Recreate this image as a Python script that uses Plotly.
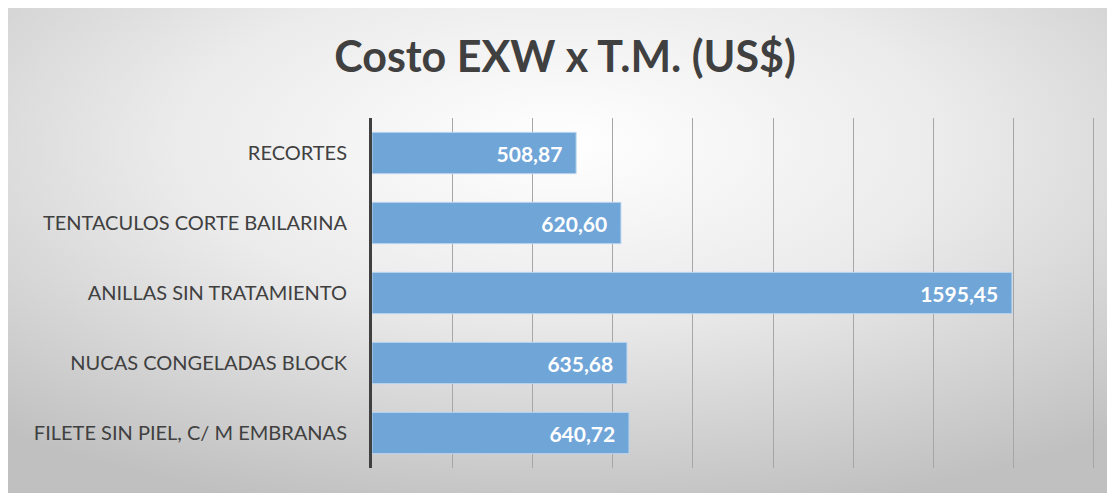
import base64
import plotly.graph_objects as go

categories = [
    "RECORTES",
    "TENTACULOS CORTE BAILARINA",
    "ANILLAS SIN TRATAMIENTO",
    "NUCAS CONGELADAS BLOCK",
    "FILETE SIN PIEL, C/ M EMBRANAS",
]
values = [508.87, 620.60, 1595.45, 635.68, 640.72]
title_text = "Costo EXW x T.M. (US$)"
x_ticks = [0, 200, 400, 600, 800, 1000, 1200, 1400, 1600, 1800]

OFF = 8  # page body margin
W, H = 1115 - OFF, 493 - OFF
ml, mr, mt, mb = 372 - OFF, 17, 118 - OFF, 25
pw, ph = W - ml - mr, H - mt - mb

svg = (
    '<svg xmlns="http://www.w3.org/2000/svg" width="1111" height="487" '
    'viewBox="0 0 100 100" preserveAspectRatio="none">'
    '<defs><radialGradient id="g" cx="0.5" cy="0.28" r="0.78" fx="0.5" fy="0.28">'
    '<stop offset="0" stop-color="#ffffff"/>'
    '<stop offset="0.45" stop-color="#ebebeb"/>'
    '<stop offset="1" stop-color="#c0c0c0"/>'
    '</radialGradient></defs>'
    '<rect x="0" y="0" width="100" height="100" fill="url(#g)"/></svg>'
)
uri = "data:image/svg+xml;base64," + base64.b64encode(svg.encode()).decode()

fig = go.Figure()
fig.add_trace(go.Bar(
    x=values,
    y=categories,
    orientation="h",
    marker=dict(color="#70a5d8", line=dict(color="#bcd6ee", width=1)),
    texttemplate="<b>%{x:.2f}</b>\u00a0\u00a0",
    textposition="inside",
    insidetextanchor="end",
    textfont=dict(color="white", size=21, family="Lato"),
    width=0.59,
    hoverinfo="skip",
))

fig.update_layout(
    width=W, height=H,
    margin=dict(l=ml, r=mr, t=mt, b=mb),
    paper_bgcolor="white",
    plot_bgcolor="rgba(0,0,0,0)",
    separators=",.",
    showlegend=False,
    title=dict(
        text="<b>" + title_text + "</b>",
        x=(565 - OFF) / W, xanchor="center", xref="container",
        y=1 - (57 - OFF) / H, yanchor="middle", yref="container",
        font=dict(family="Lato", size=43, color="#404040"),
    ),
    images=[dict(
        source=uri, xref="paper", yref="paper",
        x=-ml / pw, y=(H - mb) / ph,
        sizex=W / pw, sizey=H / ph,
        xanchor="left", yanchor="top", sizing="stretch", layer="below",
    )],
    xaxis=dict(
        range=[0, 1810], tickvals=x_ticks, showticklabels=False,
        showgrid=True, gridcolor="#a6a6a6", gridwidth=1,
        zeroline=False, showline=False, fixedrange=True,
    ),
    yaxis=dict(
        categoryorder="array", categoryarray=categories, autorange="reversed",
        showline=True, linecolor="#404040", linewidth=3,
        ticks="", ticklabelstandoff=18,
        tickfont=dict(family="Lato", size=20, color="#404040"),
        showgrid=False, fixedrange=True,
    ),
)

fig.write_html("out.html")
